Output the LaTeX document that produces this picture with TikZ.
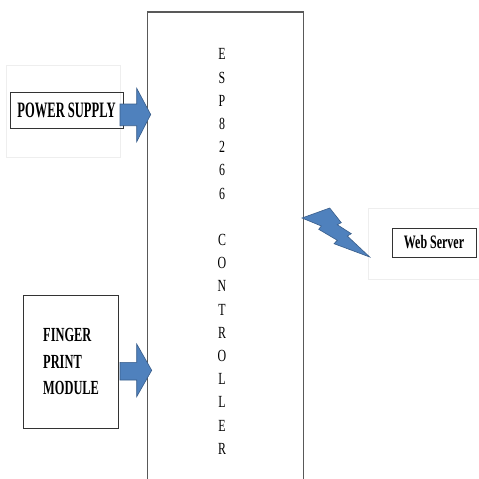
\documentclass[tikz,border=0pt]{standalone}
\usepackage{fontspec}
\setmainfont{Liberation Serif}
\newfontfamily\cond[FakeStretch=0.7]{Liberation Serif}
\newfontfamily\condps[FakeStretch=0.57]{Liberation Serif}
\newfontfamily\condfp[FakeStretch=0.62]{Liberation Serif}
\newfontfamily\condweb[FakeStretch=0.63]{Liberation Serif}
\definecolor{arrowfill}{RGB}{79,129,189}
\definecolor{arrowline}{RGB}{56,93,138}
\definecolor{faint}{RGB}{238,238,238}
\tikzset{
  boxline/.style={draw=black!80, line width=0.9pt},
  blockarrow/.style={fill=arrowfill, draw=arrowline, line width=0.6pt, line join=miter},
  faintframe/.style={draw=faint, line width=0.8pt}
}
\begin{document}
\begin{tikzpicture}[x=1pt,y=-1pt]
\useasboundingbox[fill=white] (0,0) rectangle (479,479);
% faint frames
\draw[faintframe] (6,65) rectangle (120,157);
\draw[faintframe] (368,208) -- (479,208);
\draw[faintframe] (368,279) -- (479,279);
\draw[faintframe] (368,208) -- (368,279);
% controller box (open at bottom)
\node[inner sep=0pt, minimum width=155.5pt, minimum height=467pt, anchor=north west] (ctrl) at (147.5,12) {};
\draw[draw=black!65, line width=1.1pt] (ctrl.south west) -- (ctrl.north west) -- (ctrl.north east) -- (ctrl.south east);
\node[font=\cond\fontsize{17}{23.2}\selectfont, align=center, inner sep=0pt] (ctrltext) at (222,251.5)
  {E\\S\\P\\8\\2\\6\\6\\[23.2pt]C\\O\\N\\T\\R\\O\\L\\L\\E\\R};
% power supply
\node[boxline, minimum width=113pt, minimum height=36pt, inner sep=0pt, font=\condps\bfseries\fontsize{22}{26}\selectfont] (ps) at (66.5,110) {POWER SUPPLY};
% finger print module
\node[boxline, minimum width=95pt, minimum height=133pt, inner sep=0pt] (fp) at (70.5,361.5) {};
\node[inner sep=0pt, align=left, anchor=west, font=\condfp\bfseries\fontsize{20}{26.5}\selectfont] (fptext) at (43,361.5) {FINGER\\PRINT\\MODULE};
% web server
\node[boxline, minimum width=84pt, minimum height=29pt, inner sep=0pt, font=\condweb\bfseries\fontsize{19}{22}\selectfont] (web) at (434,242.5) {Web Server};
% block arrows
\draw[blockarrow] (120,104) -- (136.7,104) -- (136.7,88.3) -- (150.7,114.5) -- (136.7,141.7) -- (136.7,125.7) -- (120,125.7) -- cycle;
\draw[blockarrow] (120,362.3) -- (136.7,362.3) -- (136.7,344) -- (151.7,370.3) -- (136.7,396.7) -- (136.7,380) -- (120,380) -- cycle;
% lightning bolt
\draw[blockarrow] (302,218) -- (329.7,208) -- (341.3,222.7) -- (337.3,224.7) -- (351.3,233.7) -- (347.3,236) -- (369.7,257) -- (334,243.7) -- (337.3,240.3) -- (318.7,229.3) -- (321.3,226) -- cycle;
\end{tikzpicture}
\end{document}
